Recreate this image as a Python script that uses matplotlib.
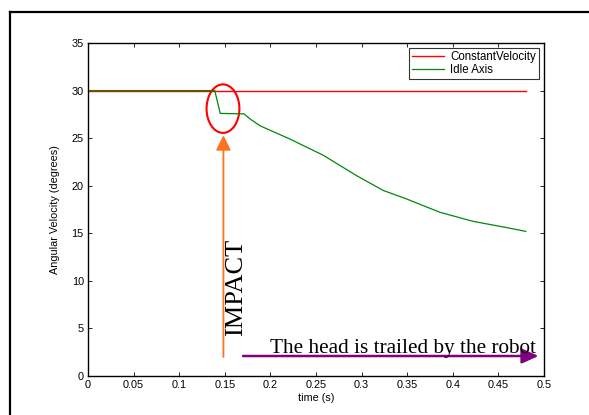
import matplotlib.pyplot as plt
from matplotlib.patches import Ellipse
from matplotlib.lines import Line2D

# data
t_const = [0, 0.48]
v_const = [30, 30]

t_idle = [0, 0.139, 0.145, 0.171, 0.178, 0.1886, 0.2215, 0.258, 0.2946,
          0.3238, 0.3495, 0.386, 0.4225, 0.459, 0.480]
v_idle = [30, 30, 27.6, 27.55, 27.0, 26.3, 24.9, 23.2, 21.05,
          19.5, 18.6, 17.2, 16.25, 15.6, 15.2]

x_ticks = [0, 0.05, 0.1, 0.15, 0.2, 0.25, 0.3, 0.35, 0.4, 0.45, 0.5]
x_labels = ['0', '0.05', '0.1', '0.15', '0.2', '0.25', '0.3', '0.35', '0.4', '0.45', '0.5']
y_ticks = [0, 5, 10, 15, 20, 25, 30, 35]

plt.rcParams['font.family'] = ['Liberation Sans', 'DejaVu Sans']

fig = plt.figure(figsize=(5.89, 4.15), dpi=100)
ax = fig.add_axes([0.1494, 0.094, 0.7742, 0.8024])

# plot data
ax.plot(t_const, v_const, color='#ff0000', lw=1.0, label='ConstantVelocity')
ax.plot(t_idle, v_idle, color='#00880a', lw=0.9, label='Idle Axis')

# configure axes, matlab style
ax.set_xlim(0, 0.5)
ax.set_ylim(0, 35)
ax.set_xticks(x_ticks)
ax.set_xticklabels(x_labels)
ax.set_yticks(y_ticks)
ax.tick_params(direction='in', top=True, right=True, labelsize=7.8, length=3, width=0.6, pad=3)
for s in ax.spines.values():
    s.set_linewidth(1.0)

ax.set_xlabel('time (s)', fontsize=7.8, labelpad=2)
ax.set_ylabel('Angular Velocity (degrees)', fontsize=7.8, labelpad=8)

leg = ax.legend(loc='upper right', fontsize=8.3, frameon=True, fancybox=False,
                handlelength=2.8, handletextpad=0.5, borderaxespad=0.45,
                borderpad=0.25, labelspacing=0.1)
leg.get_frame().set_edgecolor('black')
leg.get_frame().set_linewidth(0.8)

# annotations
ax.add_patch(Ellipse((0.148, 28.1), 0.036, 5.1, fill=False, edgecolor='red', lw=1.5))
ax.annotate('', xy=(0.1485, 25.3), xytext=(0.1485, 2.0),
            arrowprops=dict(arrowstyle='-|>,head_length=0.9,head_width=0.45',
                            color='#ff7020', lw=1.3, shrinkA=0, shrinkB=0))
ax.text(0.162, 9.3, 'IMPACT', rotation=90, ha='center', va='center',
        fontsize=19, family='Liberation Serif')
ax.annotate('', xy=(0.494, 2.1), xytext=(0.170, 2.1),
            arrowprops=dict(arrowstyle='-|>,head_length=1.0,head_width=0.45',
                            color='#800080', lw=1.8, shrinkA=0, shrinkB=0))
ax.text(0.1996, 2.4, 'The head is trailed by the robot', ha='left', va='baseline',
        fontsize=15.3, family='Liberation Serif')

# outer frame around the figure
fig.add_artist(Line2D([10 / 589, 10 / 589], [-0.01, 1 - 12 / 415], transform=fig.transFigure,
                      color='black', lw=1.6))
fig.add_artist(Line2D([10 / 589, 1.01], [1 - 12 / 415, 1 - 12 / 415], transform=fig.transFigure,
                      color='black', lw=1.6))

fig.savefig('out.png', dpi=100)
